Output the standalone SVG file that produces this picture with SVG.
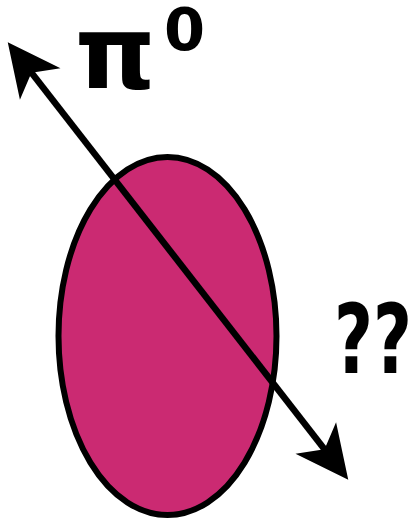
<svg xmlns="http://www.w3.org/2000/svg" width="414" height="519" viewBox="0 0 414 519">
<style>
.t{font-family:"DejaVu Sans","Liberation Sans",sans-serif;font-weight:bold;fill:#000}
</style>
<defs>
<marker id="ah" markerUnits="userSpaceOnUse" markerWidth="60" markerHeight="60" viewBox="-40 -20 42 40" refX="-20" refY="0" orient="auto-start-reverse" overflow="visible">
<path d="M0,0 L-37,-18 L-27,0 L-37,18 Z" fill="#000"/>
</marker>
</defs>
<g id="particle">
<ellipse cx="167.5" cy="336" rx="109" ry="179" fill="#CB2A72" stroke="#000" stroke-width="6"/>
</g>
<g id="connectors">
<line x1="25.3" y1="64.8" x2="330.7" y2="457.2" stroke="#000" stroke-width="6.5" marker-start="url(#ah)" marker-end="url(#ah)"/>
</g>
<g id="label-pi">
<text class="t" x="75" y="88" font-size="102">π</text>
<text class="t" x="164" y="50" font-size="59">0</text>
</g>
<g id="label-q">
<text class="t" x="334" y="373" font-size="97" textLength="78" lengthAdjust="spacingAndGlyphs">??</text>
</g>
</svg>
